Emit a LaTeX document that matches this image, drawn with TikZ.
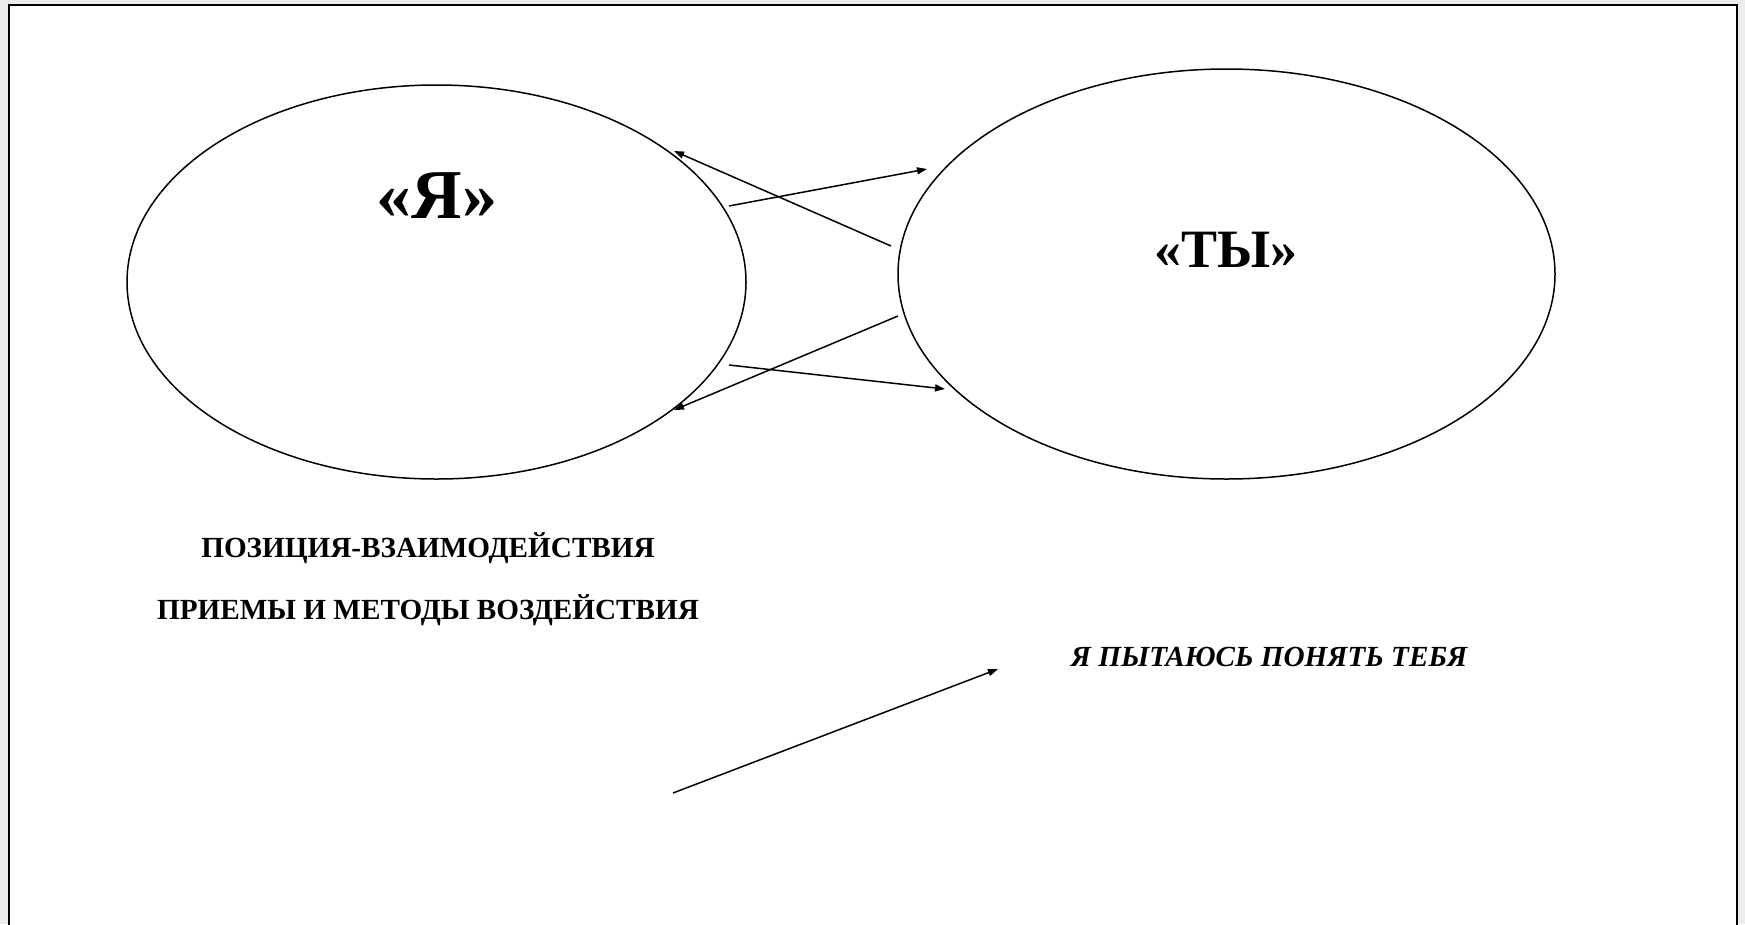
\documentclass[tikz,border=0pt]{standalone}
\usepackage{fontspec}
\setmainfont{Liberation Serif}
\usetikzlibrary{shapes.geometric,arrows.meta}
\begin{document}
\begin{tikzpicture}[x=1pt,y=-1pt,
  oval/.style={draw,ellipse,line width=1.5pt,inner sep=0pt},
  conn/.style={line width=1.5pt,-{Triangle[length=10pt,width=7pt]}},
  bigya/.style={font=\fontsize{70}{72}\selectfont\bfseries},
  bigty/.style={font=\fontsize{54}{56}\selectfont\bfseries},
  lbl/.style={font=\fontsize{29.2}{32}\selectfont\bfseries},
  lbli/.style={font=\fontsize{29.2}{32}\selectfont\bfseries\itshape}]
\fill[gray!15] (0,0) rectangle (1745,924);
\useasboundingbox (0,0) rectangle (1745,924);
\fill[white] (9,5) rectangle (1737,935);
\draw[line width=2pt] (9,935) -- (9,5) -- (1737,5) -- (1737,935);
\node[oval,minimum width=619pt,minimum height=394pt] (ya) at (436.5,282) {};
\node[oval,minimum width=657pt,minimum height=410pt] (ty) at (1226.5,274) {};
\node[bigya] (yat) at (437,196) {«Я»};
\node[bigty] (tyt) at (1226,250) {«ТЫ»};
\node[lbl] (l1) at (428,548) {ПОЗИЦИЯ-ВЗАИМОДЕЙСТВИЯ};
\node[lbl] (l2) at (428,610) {ПРИЕМЫ И МЕТОДЫ ВОЗДЕЙСТВИЯ};
\node[lbli] (l3) at (1269,657) {Я ПЫТАЮСЬ ПОНЯТЬ ТЕБЯ};
\coordinate (a1s) at (729,206);
\coordinate (a1e) at (927,169);
\coordinate (a2s) at (891,246);
\coordinate (a2e) at (674,151);
\coordinate (a3s) at (898,316);
\coordinate (a3e) at (674,410);
\coordinate (a4s) at (729,365);
\coordinate (a4e) at (945,389);
\coordinate (a5s) at (673,793);
\coordinate (a5e) at (998,669);
\draw[conn] (a1s) -- (a1e);
\draw[conn] (a2s) -- (a2e);
\draw[conn] (a3s) -- (a3e);
\draw[conn] (a4s) -- (a4e);
\draw[conn] (a5s) -- (a5e);
\end{tikzpicture}
\end{document}
